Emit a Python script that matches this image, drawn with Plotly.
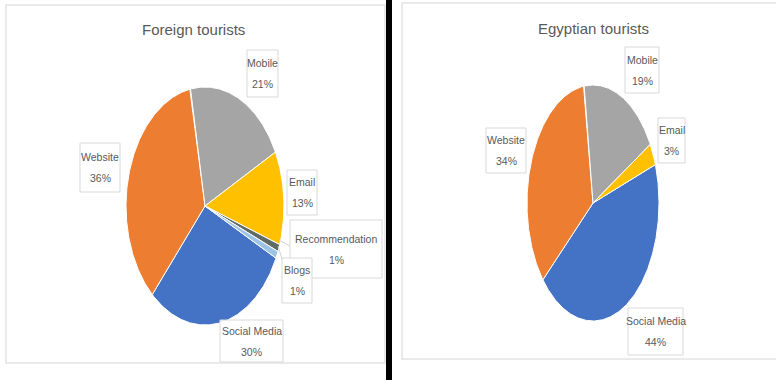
import numpy as np
import plotly.graph_objects as go

# ---- data ----
foreign_labels = ["Social Media", "Website", "Mobile", "Email", "Recommendation", "Blogs"]
foreign_values = [30, 36, 21, 13, 1, 1]
egypt_labels = ["Social Media", "Website", "Mobile", "Email"]
egypt_values = [44, 34, 19, 3]
titles = ["Foreign tourists", "Egyptian tourists"]

# ---- styles ----
colors = {"Social Media": "#4472C4", "Website": "#ED7D31", "Mobile": "#A5A5A5",
          "Email": "#FFC000", "Recommendation": "#5F6B63", "Blogs": "#9DC3E6"}
FONT = "Liberation Sans Narrow, Arial Narrow, Liberation Sans, sans-serif"
TXT = "#595959"
W, H = 776, 380

fig = go.Figure()


def add_pie(labels, values, cx, cy, rx, ry, start_deg):
    total = float(sum(values))
    a = start_deg
    for lab, v in zip(labels, values):
        span = 360.0 * v / total
        th = np.radians(np.linspace(a, a + span, max(int(span * 2), 2) + 1))
        xs = np.concatenate([[cx], cx + rx * np.sin(th), [cx]])
        ys = np.concatenate([[cy], cy - ry * np.cos(th), [cy]])
        fig.add_trace(go.Scatter(x=xs, y=ys, fill="toself", fillcolor=colors[lab],
                                 mode="lines", line=dict(color="white", width=1),
                                 hoverinfo="text", text=f"{lab}: {v}%", showlegend=False))
        a += span


add_pie(foreign_labels, foreign_values, 205, 206, 79, 119, 116)
add_pie(egypt_labels, egypt_values, 593, 203, 66, 118, 71)

# label boxes: (center x, center y, width, height)
foreign_boxes = {"Mobile": (262.5, 73.5, 31, 47), "Website": (100, 167.5, 40, 49),
                 "Email": (302, 192.5, 30, 45), "Recommendation": (336, 249, 92, 58),
                 "Blogs": (297, 280.5, 30, 45), "Social Media": (251.5, 341, 63, 42)}
egypt_boxes = {"Mobile": (642, 70, 34, 46), "Email": (671.5, 140.5, 27, 45),
               "Website": (506, 150.5, 40, 45), "Social Media": (655.5, 331.5, 55, 47)}

shapes = []
annotations = []

# panel borders and separator
shapes.append(dict(type="rect", xref="x", yref="y", x0=6, y0=5, x1=385, y1=363,
                   line=dict(color="#E3E3E3", width=1.5), fillcolor="white", layer="below"))
shapes.append(dict(type="rect", xref="x", yref="y", x0=402, y0=3, x1=780, y1=359,
                   line=dict(color="#E3E3E3", width=1.5), fillcolor="white", layer="below"))
shapes.append(dict(type="rect", xref="x", yref="y", x0=386, y0=0, x1=392, y1=380,
                   line=dict(width=0), fillcolor="black"))

# leader lines for the tiny slices
shapes.append(dict(type="line", xref="x", yref="y", x0=279, y0=240, x1=290, y1=246,
                   line=dict(color="#D0D0D0", width=1)))
shapes.append(dict(type="line", xref="x", yref="y", x0=278, y0=246, x1=283, y1=262,
                   line=dict(color="#D0D0D0", width=1)))

for labels, values, boxes in [(foreign_labels, foreign_values, foreign_boxes),
                              (egypt_labels, egypt_values, egypt_boxes)]:
    for lab, v in zip(labels, values):
        cx, cy, w, h = boxes[lab]
        shapes.append(dict(type="rect", xref="x", yref="y", x0=cx - w / 2, x1=cx + w / 2,
                           y0=cy - h / 2, y1=cy + h / 2,
                           line=dict(color="#D9D9D9", width=1), fillcolor="rgba(255,255,255,0.9)"))
        annotations.append(dict(x=cx, y=cy - 10.5, xref="x", yref="y", text=lab, showarrow=False,
                                font=dict(family=FONT, size=10.5, color=TXT)))
        annotations.append(dict(x=cx, y=cy + 10.5, xref="x", yref="y", text=f"{v}%", showarrow=False,
                                font=dict(family=FONT, size=10.5, color=TXT)))

for t, x, y in zip(titles, [193, 593], [29, 28]):
    annotations.append(dict(x=x, y=y, xref="x", yref="y", text=t, showarrow=False,
                            font=dict(family=FONT, size=15, color=TXT)))

fig.update_layout(
    width=W, height=H, margin=dict(l=0, r=0, t=0, b=0),
    paper_bgcolor="white", plot_bgcolor="white",
    xaxis=dict(range=[0, W], visible=False, fixedrange=True),
    yaxis=dict(range=[H, 0], visible=False, fixedrange=True),
    shapes=shapes, annotations=annotations, showlegend=False,
)

fig.write_html("out.html")
